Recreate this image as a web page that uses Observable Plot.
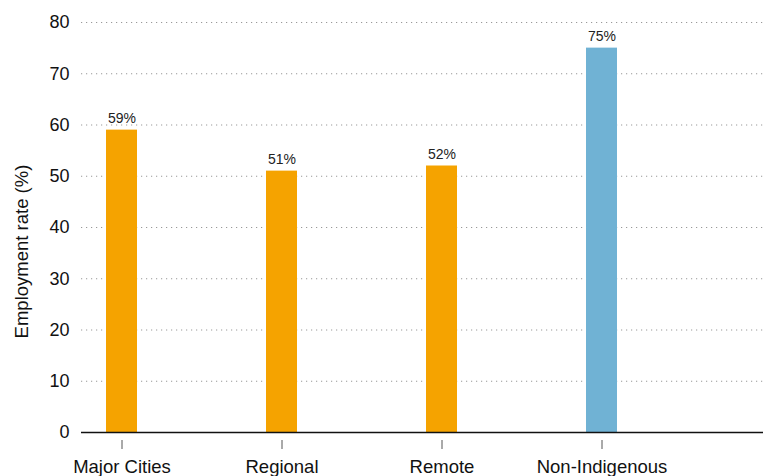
<!DOCTYPE html>
<html>
<head>
<meta charset="utf-8">
<script src="https://cdn.jsdelivr.net/npm/d3@7"></script>
<script src="https://cdn.jsdelivr.net/npm/@observablehq/plot@0.6"></script>
<style>
  html, body { margin: 0; padding: 0; background: #fff; overflow: hidden; }
  #chart svg { display: block; }
</style>
</head>
<body>
<div id="chart"></div>
<script>
const categories = ["Major Cities", "Regional", "Remote", "Non-Indigenous"];
const values = [59, 51, 52, 75];
const groups = ["Indigenous", "Indigenous", "Indigenous", "Non-Indigenous"];
const groupNames = ["Indigenous", "Non-Indigenous"];
const groupColors = ["#F5A300", "#70B2D4"];
const yTicks = [0, 10, 20, 30, 40, 50, 60, 70, 80];
const yLabel = "Employment rate (%)";

const data = categories.map((c, i) => ({category: c, value: values[i], group: groups[i]}));
const font = "'Liberation Sans', Arial, Helvetica, sans-serif";

const chart = Plot.plot({
  width: 763,
  height: 495,
  marginLeft: 81,
  marginRight: 0,
  marginTop: 10,
  marginBottom: 55,
  style: {fontFamily: font, background: "#fff", color: "#111"},
  x: {type: "band", domain: categories, range: [106, 618.5], paddingInner: 0.807, paddingOuter: 0, align: 0},
  y: {domain: [0, 80], range: [432, 22]},
  color: {domain: groupNames, range: groupColors},
  marks: [
    Plot.gridY(yTicks, {stroke: "#999", strokeOpacity: 1, strokeWidth: 1.2, strokeDasharray: "1.2,3.8"}),
    Plot.barY(data, {x: "category", y: "value", fill: "group"}),
    Plot.ruleY([0], {stroke: "#111", strokeWidth: 1.5}),
    Plot.axisY(yTicks, {tickSize: 0, tickPadding: 12, fontSize: 18, label: null, fill: "#111"}),
    Plot.axisX({tickSize: 9, tickPadding: 10, fontSize: 18.5, label: null, stroke: "#555", fill: "#111"}),
    Plot.text(data, {x: "category", y: "value", text: d => d.value + "%", lineAnchor: "bottom", dy: -7, fontSize: 14, fill: "#222"}),
    Plot.text([yLabel], {frameAnchor: "left", text: d => d, rotate: -90, textAnchor: "middle", lineAnchor: "middle", dx: -59, dy: 26, fontSize: 18.5, fill: "#111"})
  ]
});
document.getElementById("chart").append(chart);
</script>
</body>
</html>
